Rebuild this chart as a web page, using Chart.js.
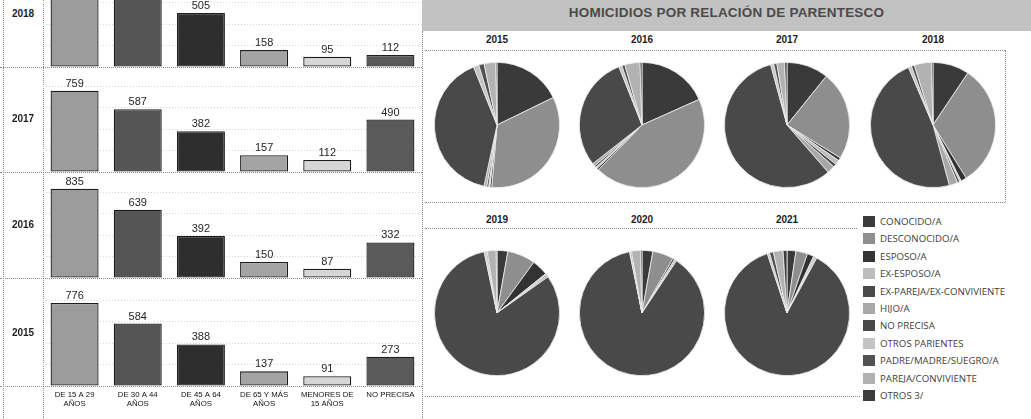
<!DOCTYPE html>
<html><head><meta charset="utf-8">
<script src="https://cdn.jsdelivr.net/npm/chart.js@4.4.1/dist/chart.umd.min.js"></script>
<style>
html,body{margin:0;padding:0;background:#fff;width:1031px;height:419px;overflow:hidden;position:relative;font-family:"Liberation Sans",Arial,sans-serif;}
.box{position:absolute;}
.hl{position:absolute;height:0;border-top:1px dotted #8c8c8c;}
.vl{position:absolute;width:0;border-left:1px dotted #8c8c8c;}
.year{position:absolute;left:3px;width:40px;text-align:center;font-weight:bold;font-size:10px;color:#1e1e1e;line-height:12px;}
.ptitle{position:absolute;width:80px;text-align:center;font-weight:bold;font-size:10px;color:#1e1e1e;line-height:12px;}
#band{position:absolute;left:422px;top:0;width:609px;height:31px;background:#c2c2c2;text-align:center;font-weight:bold;font-size:13.5px;color:#4a4a4a;line-height:26px;letter-spacing:0.2px;}
.leg{position:absolute;left:863px;height:12px;font-family:"Open Sans",sans-serif;font-size:9.7px;color:#404040;line-height:12px;white-space:nowrap;}
.leg i{display:inline-block;width:12px;height:11px;vertical-align:top;margin-right:5px;}
</style></head>
<body>
<div id="band">HOMICIDIOS POR RELACIÓN DE PARENTESCO</div>
<div id="root"></div>
<script>
// ---------- DATA ----------
const ageCategories = [["DE 15 A 29","AÑOS"],["DE 30 A 44","AÑOS"],["DE 45 A 64","AÑOS"],["DE 65 Y MÁS","AÑOS"],["MENORES DE","15 AÑOS"],"NO PRECISA"];
const barYears = ["2018","2017","2016","2015"];
const ages2018 = [898, 690, 505, 158, 95, 112];
const ages2017 = [759, 587, 382, 157, 112, 490];
const ages2016 = [835, 639, 392, 150, 87, 332];
const ages2015 = [776, 584, 388, 137, 91, 273];

const relationCategories = ["CONOCIDO/A","DESCONOCIDO/A","ESPOSO/A","EX-ESPOSO/A","EX-PAREJA/EX-CONVIVIENTE","HIJO/A","NO PRECISA","OTROS PARIENTES","PADRE/MADRE/SUEGRO/A","PAREJA/CONVIVIENTE","OTROS 3/"];
const pieYears = ["2015","2016","2017","2018","2019","2020","2021"];
const rel2015 = [17.8, 33.6, 0.5, 0.3, 0.5, 0.7, 40.6, 1.4, 1.4, 3.0, 0.3];
const rel2016 = [18.3, 44.0, 0.5, 0.4, 0.5, 0.7, 29.6, 0.8, 0.8, 3.9, 0.5];
const rel2017 = [10.8, 23.0, 0.8, 1.2, 0.8, 2.0, 57.2, 0.8, 0.8, 2.0, 0.6];
const rel2018 = [9.4, 31.7, 1.5, 0.4, 0.6, 2.2, 47.8, 0.8, 0.8, 4.4, 0.4];
const rel2019 = [2.8, 7.2, 4.2, 0.3, 0.3, 0.4, 81.5, 0.5, 0.3, 2.3, 0.2];
const rel2020 = [2.8, 5.4, 0.5, 0.1, 0.3, 0.2, 87.5, 0.2, 0.3, 2.3, 0.4];
const rel2021 = [2.3, 3.0, 1.7, 0.3, 0.3, 0.3, 87.0, 0.6, 1.0, 2.5, 1.0];

// ---------- STYLE / LAYOUT ----------
const barColors = ["#9c9c9c","#555555","#2e2e2e","#a4a4a4","#d6d6d6","#5a5a5a"];
const relColors = ["#3a3a3a","#8e8e8e","#333333","#bdbdbd","#4a4a4a","#a8a8a8","#494949","#c4c4c4","#525252","#b2b2b2","#3c3c3c"];
const rowBaselines = [67,172,278,386];
const rowH = 107;
const pieCenters = [[497,125],[642,125],[787,125],[933,125],[497,313],[642,313],[787,313]];
const pieR = 63;

const root = document.getElementById('root');
function el(cls, style, text){const d=document.createElement('div');d.className=cls;Object.assign(d.style,style);if(text!==undefined)d.textContent=text;root.appendChild(d);return d;}

// frame lines
el('vl',{left:'3px',top:'0px',height:'419px'});
el('vl',{left:'43px',top:'0px',height:'419px'});
el('vl',{left:'422px',top:'31px',height:'388px'});
rowBaselines.forEach(y=>el('hl',{left:'0px',top:y+'px',width:'422px'}));
el('hl',{left:'425px',top:'50px',width:'580px'});
el('vl',{left:'1005px',top:'50px',height:'152px'});
el('hl',{left:'425px',top:'202px',width:'580px'});
el('hl',{left:'425px',top:'228px',width:'432px'});
el('hl',{left:'425px',top:'396px',width:'435px'});

Chart.defaults.font.family = '"Liberation Sans", Arial, sans-serif';
Chart.defaults.animation = false;
Chart.defaults.devicePixelRatio = 1;

const valueLabels = {
  id:'valueLabels',
  afterDatasetsDraw(chart){
    const ctx = chart.ctx, meta = chart.getDatasetMeta(0), data = chart.data.datasets[0].data;
    ctx.save();
    ctx.font = '11px "Liberation Sans", Arial, sans-serif';
    ctx.fillStyle = '#262626'; ctx.textAlign = 'center'; ctx.textBaseline = 'alphabetic';
    meta.data.forEach((b,i)=>ctx.fillText(String(data[i]), b.x, b.y - 4));
    ctx.restore();
  }
};

const rowData = [ages2018, ages2017, ages2016, ages2015];
rowData.forEach((vals, r)=>{
  const last = r === rowData.length-1;
  const base = rowBaselines[r];
  const extra = last ? 25 : 0;
  const wrap = el('box',{left:'43px',top:(base-rowH)+'px',width:'379px',height:(rowH+extra)+'px'});
  const cv = document.createElement('canvas'); wrap.appendChild(cv);
  el('year',{top:(base-rowH/2-6)+'px'}, barYears[r]);
  new Chart(cv,{
    type:'bar',
    data:{labels:ageCategories,datasets:[{data:vals,backgroundColor:barColors,borderColor:'#1c1c1c',borderWidth:1.3,borderSkipped:false,barPercentage:0.76,categoryPercentage:1}]},
    options:{
      responsive:true,maintainAspectRatio:false,
      layout:{padding:0},
      plugins:{legend:{display:false},tooltip:{enabled:false}},
      scales:{
        x:{display:last,grid:{display:false,drawTicks:false},border:{display:false},
           ticks:{padding:5,autoSkip:false,maxRotation:0,color:'#111111',font:{size:7.8,lineHeight:1.1}},
           afterFit:s=>{s.height=extra;}},
        y:{display:true,min:0,max:1000,
           ticks:{display:false,stepSize:200},
           grid:{drawTicks:false,color:c=>(c.tick.value===0||c.tick.value===1000)?'rgba(0,0,0,0)':'#d4d4d4'},
           border:{display:false,dash:[1,2]},
           afterFit:s=>{s.width=0;}}
      }
    },
    plugins:[valueLabels]
  });
});

// pies
const pieData = [rel2015, rel2016, rel2017, rel2018, rel2019, rel2020, rel2021];
pieData.forEach((vals,i)=>{
  const [cx,cy] = pieCenters[i];
  const row2 = i >= 4;
  el('ptitle',{left:(cx-40)+'px',top:(row2?214:34)+'px'}, pieYears[i]);
  const wrap = el('box',{left:(cx-pieR)+'px',top:(cy-pieR)+'px',width:(2*pieR)+'px',height:(2*pieR)+'px'});
  const cv = document.createElement('canvas'); wrap.appendChild(cv);
  new Chart(cv,{
    type:'pie',
    data:{labels:relationCategories,datasets:[{data:vals,backgroundColor:relColors,borderColor:'#efefef',borderWidth:0.8}]},
    options:{responsive:true,maintainAspectRatio:false,layout:{padding:0},
      plugins:{legend:{display:false},tooltip:{enabled:false}}}
  });
});

// legend
relationCategories.forEach((name,i)=>{
  const d = el('leg',{top:(216 + i*17.4)+'px'});
  const sq = document.createElement('i'); sq.style.background = relColors[i]; d.appendChild(sq);
  d.appendChild(document.createTextNode(name));
});
</script>
</body></html>
